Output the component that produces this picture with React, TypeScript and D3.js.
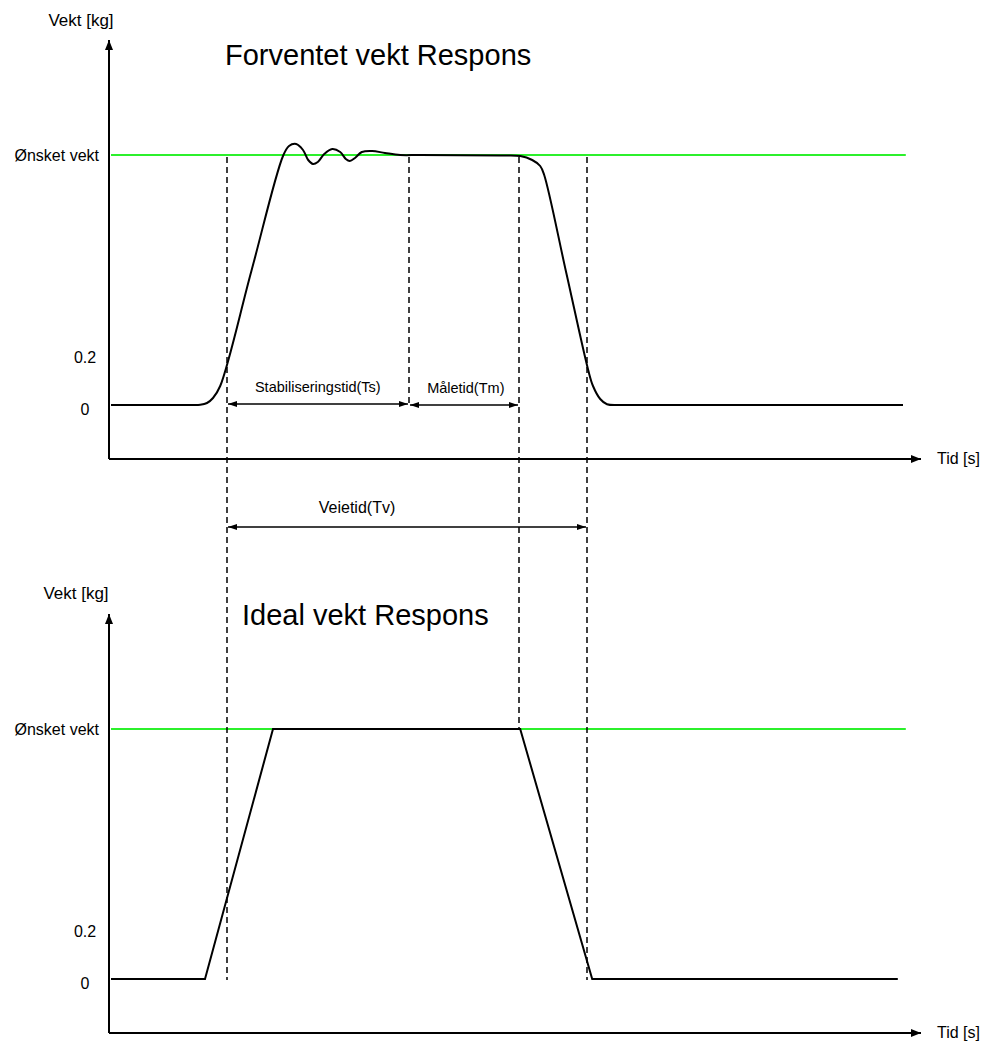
import React from 'react';
import * as d3 from 'd3';

// ---- data (time in arbitrary units 0..100, weight relative to desired weight) ----
const timeDomain: [number, number] = [0, 100];
const weightDomain: [number, number] = [-0.216, 1.46];

const expectedTime = [0.25, 6.0, 10.4, 11.4, 12.25, 13.0, 13.9, 17.8, 21.75, 22.5, 23.4, 24.25, 24.9, 25.5, 26.1, 26.9, 27.9, 28.9, 29.6, 30.1, 30.75, 31.6, 32.9, 34.5, 36.4, 38.9, 48.9, 51.4, 52.9, 53.9, 54.4, 57.15, 59.9, 60.5, 61.4, 62.25, 63.9, 66.0, 80.0, 99.25];
const expectedWeight = [0, 0, 0, 0.001, 0.008, 0.028, 0.076, 0.536, 0.996, 1.036, 1.044, 1.02, 0.98, 0.964, 0.972, 1.004, 1.024, 1.012, 0.984, 0.976, 0.988, 1.012, 1.016, 1.008, 1.0, 1.0, 0.998, 0.996, 0.98, 0.956, 0.92, 0.53, 0.14, 0.076, 0.024, 0.003, 0, 0, 0, 0];

const idealTime = [0.25, 12.0, 20.5, 51.4, 60.4, 98.6];
const idealWeight = [0, 0, 1, 1, 0, 0];

const desiredWeight = 1;
const desiredLineRange: [number, number] = [0.25, 99.6];

const yTickValues = [1, 0.2, 0];
const yTickLabels = ['Ønsket vekt', '0.2', '0'];

const panelTitles = ['Forventet vekt Respons', 'Ideal vekt Respons'];
const yAxisTitle = 'Vekt [kg]';
const xAxisTitle = 'Tid [s]';

// vertical markers: time, end panel, end weight
const markerTimes = [14.75, 37.5, 51.25, 59.75];
const markerEndPanel = [1, 0, 1, 1];
const markerEndWeight = [0, 0, 1, 0];

const intervalLabels = ['Stabiliseringstid(Ts)', 'Måletid(Tm)', 'Veietid(Tv)'];
const intervalFrom = [14.75, 37.5, 14.75];
const intervalTo = [37.5, 51.25, 59.75];
const intervalWeight = [0.004, 0, -0.488];
const intervalLabelTime = [26.1, 44.6, 31.0];

// ---- layout ----
const W = 982;
const H = 1041;
const panelRanges: [number, number][] = [[459, 40], [1033, 614]];
const xRange: [number, number] = [109, 909];
const font = '"Liberation Sans", Arial, sans-serif';
const green = '#2cf02c';

export default function App() {
  const x = d3.scaleLinear().domain(timeDomain).range(xRange);
  const ys = panelRanges.map((r) => d3.scaleLinear().domain(weightDomain).range(r));

  const expectedData = expectedTime.map((t, i) => [t, expectedWeight[i]] as [number, number]);
  const idealData = idealTime.map((t, i) => [t, idealWeight[i]] as [number, number]);

  const expectedLine = d3
    .line<[number, number]>()
    .x((d) => x(d[0]))
    .y((d) => ys[0](d[1]))
    .curve(d3.curveCatmullRom.alpha(0.5));
  const idealLine = d3
    .line<[number, number]>()
    .x((d) => x(d[0]))
    .y((d) => ys[1](d[1]));

  const axisEnd = x(101.5);

  return (
    <svg
      width={W}
      height={H}
      viewBox={`0 0 ${W} ${H}`}
      style={{ position: 'absolute', left: 0, top: 0, background: '#fff' }}
      fontFamily={font}
    >
      <defs>
        <marker id="ah" viewBox="0 0 10 8" refX="10" refY="4" markerWidth="10" markerHeight="8" markerUnits="userSpaceOnUse" orient="auto-start-reverse">
          <path d="M0,0 L10,4 L0,8 Z" fill="#000" />
        </marker>
        <marker id="ah2" viewBox="0 0 9 6" refX="9" refY="3" markerWidth="9" markerHeight="6" markerUnits="userSpaceOnUse" orient="auto-start-reverse">
          <path d="M0,0 L9,3 L0,6 Z" fill="#000" />
        </marker>
      </defs>

      {ys.map((y, p) => {
        const y0 = y(weightDomain[0]);
        const yTop = y(weightDomain[1]);
        return (
          <g key={p}>
            {/* title */}
            <text x={p === 0 ? 225 : 242} y={y(weightDomain[1]) + (p === 0 ? 25 : 11)} fontSize={29} fill="#000">
              {panelTitles[p]}
            </text>
            {/* y axis title */}
            <text x={p === 0 ? 81 : 76} y={yTop - (p === 0 ? 14 : 15)} fontSize={17} textAnchor="middle" fill="#000">
              {yAxisTitle}
            </text>
            {/* desired weight line */}
            <line x1={x(desiredLineRange[0])} x2={x(desiredLineRange[1])} y1={y(desiredWeight)} y2={y(desiredWeight)} stroke={green} strokeWidth={2} />
            {/* axes */}
            <line x1={x(0)} x2={x(0)} y1={y0} y2={yTop} stroke="#000" strokeWidth={2} markerEnd="url(#ah)" />
            <line x1={x(0)} x2={axisEnd} y1={y0} y2={y0} stroke="#000" strokeWidth={2} markerEnd="url(#ah)" />
            <text x={axisEnd + 16} y={y0 + 5} fontSize={16} fill="#000">
              {xAxisTitle}
            </text>
            {/* y tick labels */}
            {yTickValues.map((v, i) => (
              <text
                key={i}
                x={i === 0 ? 99 : 85}
                y={y(v) + (i === 0 ? 6 : i === 1 ? 8 : 10)}
                fontSize={16}
                textAnchor={i === 0 ? 'end' : 'middle'}
                fill="#000"
              >
                {yTickLabels[i]}
              </text>
            ))}
          </g>
        );
      })}

      {/* vertical dashed markers */}
      {markerTimes.map((t, i) => (
        <line
          key={i}
          x1={x(t)}
          x2={x(t)}
          y1={ys[0](desiredWeight) + 2}
          y2={ys[markerEndPanel[i]](markerEndWeight[i]) + (markerEndPanel[i] === 1 && markerEndWeight[i] === 0 ? 1 : 0)}
          stroke="#000"
          strokeWidth={1.5}
          strokeDasharray="6,4"
        />
      ))}

      {/* response curves */}
      <path d={expectedLine(expectedData) || ''} fill="none" stroke="#000" strokeWidth={2} />
      <path d={idealLine(idealData) || ''} fill="none" stroke="#000" strokeWidth={2} />

      {/* interval arrows */}
      {intervalLabels.map((lab, i) => {
        const yy = ys[0](intervalWeight[i]);
        return (
          <g key={i}>
            <line
              x1={x(intervalFrom[i]) + 1}
              x2={x(intervalTo[i]) - 1}
              y1={yy}
              y2={yy}
              stroke="#000"
              strokeWidth={1.5}
              markerStart="url(#ah2)"
              markerEnd="url(#ah2)"
            />
            <text x={x(intervalLabelTime[i])} y={yy - (i === 2 ? 14 : 12)} fontSize={i === 2 ? 16 : 14.5} textAnchor="middle" fill="#000">
              {lab}
            </text>
          </g>
        );
      })}
    </svg>
  );
}
